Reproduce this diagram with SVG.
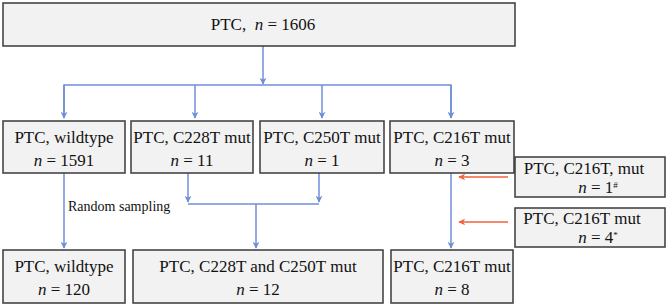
<svg xmlns="http://www.w3.org/2000/svg" width="669" height="308" viewBox="0 0 669 308" font-family="'Liberation Serif', 'Times New Roman', 'DejaVu Serif', serif">
<defs>
<style>
.box{fill:#f2f2f2;stroke:#3a3a3a;stroke-width:1.5}
.t{font-family:'Liberation Serif','Times New Roman','DejaVu Serif',serif;font-size:17px;fill:#111;text-anchor:middle}
.i{font-style:italic}
.sm{font-family:'Liberation Serif','Times New Roman','DejaVu Serif',serif;font-size:14px;fill:#111}
.sup{font-size:9px}
.bl{fill:none;stroke:#6f8ed8;stroke-width:1.5}
.rd{fill:none;stroke:#f2603f;stroke-width:1.5}
</style>
<marker id="ab" viewBox="0 0 10 10" refX="9" refY="5" markerWidth="7" markerHeight="7" markerUnits="userSpaceOnUse" orient="auto"><path d="M0,0 L10,5 L0,10 L3,5 Z" fill="#6f8ed8"/></marker>
<marker id="ar" viewBox="0 0 10 10" refX="9" refY="5" markerWidth="7" markerHeight="7" markerUnits="userSpaceOnUse" orient="auto"><path d="M0,0 L10,5 L0,10 L3,5 Z" fill="#f2603f"/></marker>
</defs>
<rect width="669" height="308" fill="#ffffff"/>
<g id="connectors">
<path class="bl" d="M263,46 V84" marker-end="url(#ab)"/>
<path class="bl" d="M64,118 V85 H451 V118"/>
<path class="bl" d="M64,85 V118" marker-end="url(#ab)"/>
<path class="bl" d="M195,85 V118" marker-end="url(#ab)"/>
<path class="bl" d="M322,85 V118" marker-end="url(#ab)"/>
<path class="bl" d="M451,85 V118" marker-end="url(#ab)"/>
<path class="bl" d="M64,173 V248" marker-end="url(#ab)"/>
<path class="bl" d="M188,173 V202" marker-end="url(#ab)"/>
<path class="bl" d="M319,173 V202" marker-end="url(#ab)"/>
<path class="bl" d="M188,204 H319"/>
<path class="bl" d="M256,204 V248" marker-end="url(#ab)"/>
<path class="bl" d="M451,173 V248" marker-end="url(#ab)"/>
<path class="rd" d="M508,177 H459" marker-end="url(#ar)"/>
<path class="rd" d="M508,222 H459" marker-end="url(#ar)"/>
<text class="sm" x="68" y="211">Random sampling</text>
</g>
<g id="n_all"><rect class="box" x="3" y="3" width="512" height="43"/><text class="t" x="263" y="30">PTC,&#160; <tspan class="i">n</tspan> = 1606</text></g>
<g id="n_wt"><rect class="box" x="3" y="121" width="122" height="52"/><text class="t" x="64" y="143">PTC, wildtype</text><text class="t" x="64" y="166"><tspan class="i">n</tspan> = 1591</text></g>
<g id="n_c228"><rect class="box" x="131" y="121" width="122" height="52"/><text class="t" x="192" y="143">PTC, C228T mut</text><text class="t" x="192" y="166"><tspan class="i">n</tspan> = 11</text></g>
<g id="n_c250"><rect class="box" x="260" y="121" width="124" height="52"/><text class="t" x="322" y="143">PTC, C250T mut</text><text class="t" x="322" y="166"><tspan class="i">n</tspan> = 1</text></g>
<g id="n_c216"><rect class="box" x="390" y="121" width="124" height="52"/><text class="t" x="452" y="143">PTC, C216T mut</text><text class="t" x="452" y="166"><tspan class="i">n</tspan> = 3</text></g>
<g id="n_add1"><rect class="box" x="515" y="157" width="150" height="40"/><text class="t" x="584" y="174">PTC, C216T, mut</text><text class="t" x="598" y="193"><tspan class="i">n</tspan> = 1<tspan class="sup" dy="-5">#</tspan></text></g>
<g id="n_add4"><rect class="box" x="515" y="208" width="150" height="39"/><text class="t" x="582" y="224">PTC, C216T mut</text><text class="t" x="598" y="243"><tspan class="i">n</tspan> = 4<tspan class="sup" dy="-5">*</tspan></text></g>
<g id="n_wt120"><rect class="box" x="3" y="250" width="122" height="53"/><text class="t" x="64" y="272">PTC, wildtype</text><text class="t" x="64" y="295"><tspan class="i">n</tspan> = 120</text></g>
<g id="n_merge"><rect class="box" x="133" y="250" width="250" height="53"/><text class="t" x="258" y="272">PTC, C228T and C250T mut</text><text class="t" x="258" y="295"><tspan class="i">n</tspan> = 12</text></g>
<g id="n_c216_8"><rect class="box" x="391" y="250" width="122" height="53"/><text class="t" x="452" y="272">PTC, C216T mut</text><text class="t" x="452" y="295"><tspan class="i">n</tspan> = 8</text></g>
</svg>
